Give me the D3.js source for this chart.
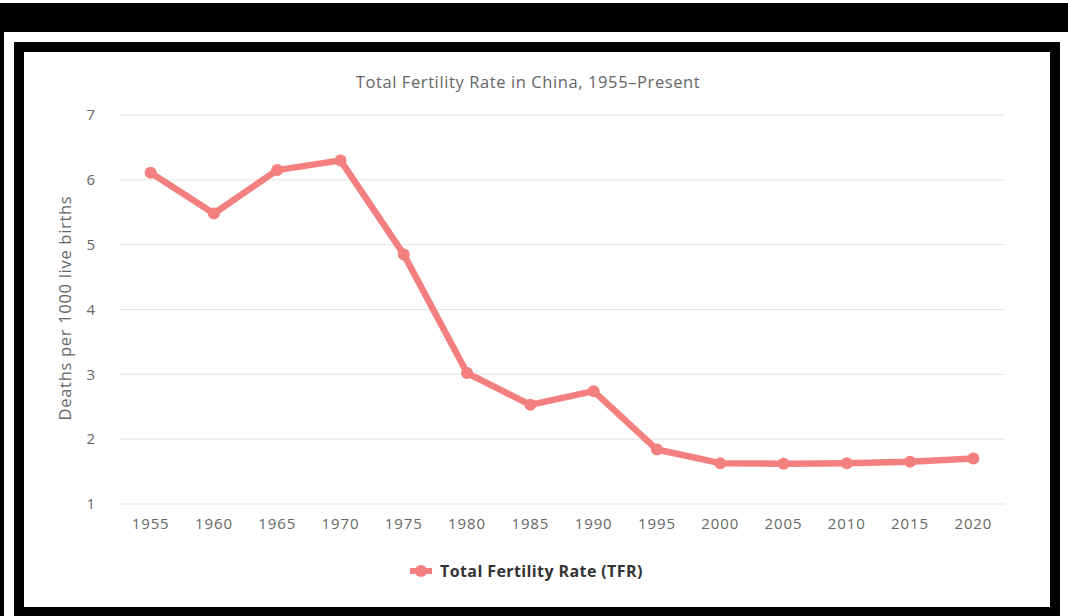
<!DOCTYPE html>
<html>
<head>
<meta charset="utf-8">
<script src="https://cdn.jsdelivr.net/npm/d3@7"></script>
<style>
  html, body { margin: 0; padding: 0; background: #ffffff; }
  svg { display: block; }
</style>
</head>
<body>
<svg id="chart" width="1068" height="616"></svg>
<script>
const years = ["1955","1960","1965","1970","1975","1980","1985","1990","1995","2000","2005","2010","2015","2020"];
const tfr = [6.11, 5.48, 6.15, 6.30, 4.85, 3.02, 2.53, 2.74, 1.84, 1.63, 1.62, 1.63, 1.65, 1.70];
const yTicks = [1, 2, 3, 4, 5, 6, 7];
const titleText = "Total Fertility Rate in China, 1955–Present";
const yAxisTitle = "Deaths per 1000 live births";
const seriesName = "Total Fertility Rate (TFR)";

(function () {
const svg = d3.select("#chart");
const font = "'Open Sans', 'DejaVu Sans', sans-serif";
const lineColor = "#f47f7f";

// Frame decoration
svg.append("rect").attr("x", 0).attr("y", 3).attr("width", 1068).attr("height", 29).attr("fill", "#000");
svg.append("rect").attr("x", 0).attr("y", 32).attr("width", 4).attr("height", 584).attr("fill", "#000");
svg.append("rect").attr("x", 14).attr("y", 42).attr("width", 1046).attr("height", 574).attr("fill", "#000");
svg.append("rect").attr("x", 24).attr("y", 52).attr("width", 1026).attr("height", 555).attr("fill", "#fff");

const pLeft = 119, pRight = 1005, pTop = 115, pBottom = 504;

const x = d3.scaleBand().domain(years).range([pLeft, pRight]).padding(0);
const y = d3.scaleLinear().domain([1, 7]).range([pBottom, pTop]);

// Gridlines
svg.append("g").selectAll("line").data(yTicks).join("line")
  .attr("x1", pLeft).attr("x2", pRight)
  .attr("y1", d => y(d)).attr("y2", d => y(d))
  .attr("stroke", "#e3e3e3").attr("stroke-width", 1);

// Y axis labels
const yAxis = d3.axisLeft(y).tickValues(yTicks).tickSize(0).tickPadding(0).tickFormat(d3.format("d"));
const gy = svg.append("g").attr("transform", `translate(${pLeft - 24},0)`).call(yAxis);
gy.select(".domain").remove();
gy.selectAll("text").attr("font-family", font).attr("font-size", 15).attr("fill", "#666");

// X axis labels
const xAxis = d3.axisBottom(x).tickSize(0).tickPadding(0);
const gx = svg.append("g").attr("transform", `translate(0,${pBottom + 14})`).call(xAxis);
gx.select(".domain").remove();
gx.selectAll("text").attr("font-family", font).attr("font-size", 15).attr("fill", "#666")
  .attr("letter-spacing", "0.9px");

// Title
svg.append("text").attr("x", 528).attr("y", 88).attr("text-anchor", "middle")
  .attr("font-family", font).attr("font-size", 16.5).attr("letter-spacing", "0.6px")
  .attr("fill", "#666").text(titleText);

// Y axis title
svg.append("text").attr("transform", `translate(71,308) rotate(-90)`).attr("text-anchor", "middle")
  .attr("font-family", font).attr("font-size", 16.5).attr("letter-spacing", "0.7px")
  .attr("fill", "#666").text(yAxisTitle);

// Line
const cx = d => x(d) + x.bandwidth() / 2;
const line = d3.line().x((d, i) => cx(years[i])).y(d => y(d));
svg.append("path").datum(tfr).attr("d", line).attr("fill", "none")
  .attr("stroke", lineColor).attr("stroke-width", 6.5).attr("stroke-linejoin", "round");
svg.append("g").selectAll("circle").data(tfr).join("circle")
  .attr("cx", (d, i) => cx(years[i])).attr("cy", d => y(d)).attr("r", 6).attr("fill", lineColor);

// Legend
const lg = svg.append("g").attr("transform", "translate(410,571)");
lg.append("line").attr("x1", 0).attr("x2", 22).attr("y1", 0).attr("y2", 0)
  .attr("stroke", lineColor).attr("stroke-width", 6);
lg.append("circle").attr("cx", 11).attr("cy", 0).attr("r", 6).attr("fill", lineColor);
lg.append("text").attr("x", 30).attr("y", 6).attr("font-family", font).attr("font-size", 16)
  .attr("font-weight", "bold").attr("letter-spacing", "0.4px").attr("fill", "#333").text(seriesName);
})();
</script>
</body>
</html>
